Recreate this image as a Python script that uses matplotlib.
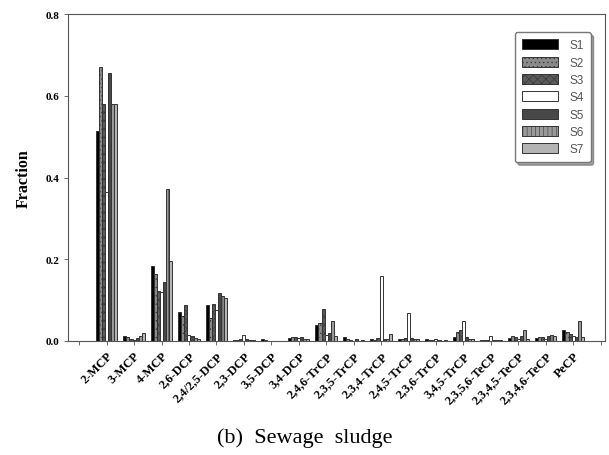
import numpy as np
import matplotlib
matplotlib.use('Agg')
import matplotlib.pyplot as plt

plt.rcParams['font.family'] = ['Liberation Serif', 'DejaVu Serif']
plt.rcParams['hatch.linewidth'] = 0.4

compounds = ['2-MCP', '3-MCP', '4-MCP', '2,6-DCP', '2,4/2,5-DCP', '2,3-DCP',
             '3,5-DCP', '3,4-DCP', '2,4,6-TrCP', '2,3,5-TrCP', '2,3,4-TrCP',
             '2,4,5-TrCP', '2,3,6-TrCP', '3,4,5-TrCP', '2,3,5,6-TeCP',
             '2,3,4,5-TeCP', '2,3,4,6-TeCP', 'PeCP']

s1 = [0.515, 0.012, 0.183, 0.070, 0.088, 0.003, 0.004, 0.008, 0.040, 0.010, 0.004, 0.004, 0.004, 0.010, 0.003, 0.008, 0.008, 0.028]
s2 = [0.670, 0.010, 0.165, 0.060, 0.056, 0.002, 0.002, 0.010, 0.045, 0.004, 0.003, 0.006, 0.002, 0.022, 0.002, 0.012, 0.010, 0.022]
s3 = [0.580, 0.005, 0.122, 0.088, 0.090, 0.004, 0.001, 0.010, 0.078, 0.002, 0.008, 0.008, 0.003, 0.028, 0.002, 0.010, 0.010, 0.018]
s4 = [0.365, 0.003, 0.120, 0.015, 0.075, 0.015, 0.000, 0.008, 0.015, 0.001, 0.160, 0.068, 0.006, 0.048, 0.012, 0.005, 0.005, 0.012]
s5 = [0.655, 0.008, 0.145, 0.012, 0.118, 0.004, 0.001, 0.010, 0.020, 0.004, 0.006, 0.008, 0.002, 0.010, 0.003, 0.012, 0.012, 0.010]
s6 = [0.580, 0.012, 0.373, 0.008, 0.110, 0.002, 0.000, 0.006, 0.048, 0.001, 0.004, 0.004, 0.001, 0.005, 0.002, 0.026, 0.015, 0.048]
s7 = [0.580, 0.020, 0.195, 0.005, 0.105, 0.002, 0.001, 0.005, 0.012, 0.002, 0.018, 0.006, 0.003, 0.005, 0.002, 0.005, 0.013, 0.010]

series = [s1, s2, s3, s4, s5, s6, s7]
names = ['S1', 'S2', 'S3', 'S4', 'S5', 'S6', 'S7']
colors = ['#000000', '#8a8a8a', '#5a5a5a', '#ffffff', '#484848', '#9a9a9a', '#b4b4b4']
hatches = [None, '....', 'xxxx', None, None, '||||', None]

fig = plt.figure(figsize=(6.09, 4.56), dpi=100)
ax = fig.add_axes([0.112, 0.25, 0.881, 0.717])

x = np.arange(1, len(compounds) + 1)
w = 0.112
for i, vals in enumerate(series):
    ax.bar(x + (i - 3) * w, vals, width=w, color=colors[i], hatch=hatches[i],
           edgecolor='#333333', linewidth=0.7, label=names[i])

ax.set_xlim(-0.4, 19.15)
ax.set_ylim(0, 0.8)
ax.set_xticks(np.arange(0, 20))
ax.set_xticklabels([''] + compounds + [''], rotation=45, ha='right',
                   rotation_mode='anchor', fontsize=9, fontweight='bold')
ax.set_yticks([0.0, 0.2, 0.4, 0.6, 0.8])
ax.set_yticklabels(['0.0', '0.2', '0.4', '0.6', '0.8'], fontsize=8, fontweight='bold')
ax.tick_params(axis='both', direction='out', length=3, width=0.6, color='#555555', pad=3)
for sp in ax.spines.values():
    sp.set_color('#555555')
    sp.set_linewidth(0.8)

ax.set_ylabel('Fraction', fontsize=11.5, fontweight='bold', labelpad=10)

leg = ax.legend(loc='upper right', bbox_to_anchor=(0.985, 0.962),
                prop={'family': 'Liberation Sans', 'size': 8.5}, handlelength=3.0,
                handleheight=0.9, labelspacing=0.45, fancybox=True, shadow=True,
                borderpad=0.6, handletextpad=1.0)
leg.get_frame().set_edgecolor('#777777')
for t in leg.get_texts():
    t.set_color('#555555')

fig.text(0.5, 0.04, '(b)  Sewage  sludge', ha='center', va='center', fontsize=16)

fig.savefig('out.png', dpi=100)
